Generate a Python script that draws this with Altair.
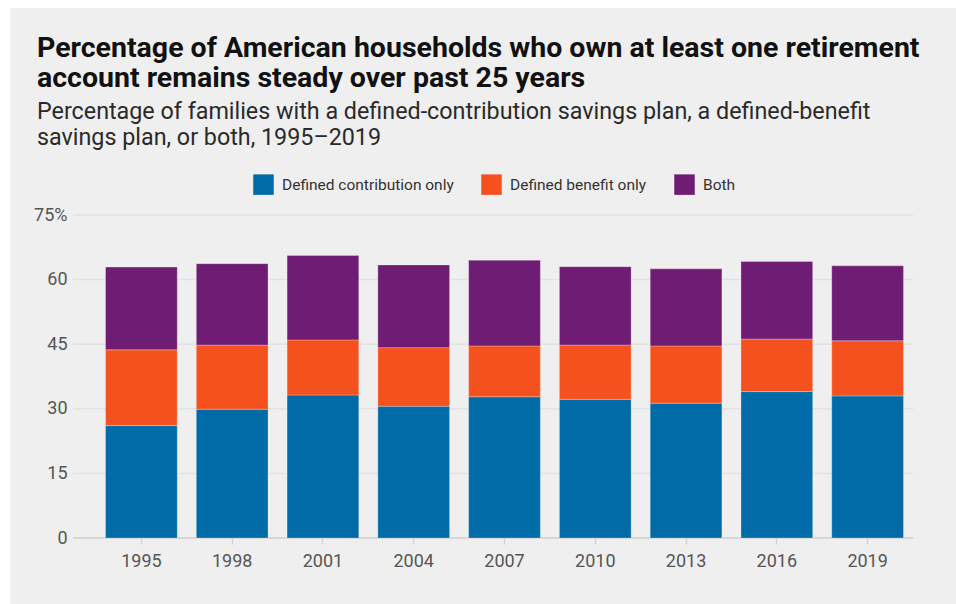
import altair as alt
import pandas as pd

years = ["1995", "1998", "2001", "2004", "2007", "2010", "2013", "2016", "2019"]
dc_only = [26.1, 29.9, 33.2, 30.6, 32.8, 32.2, 31.3, 34.0, 33.0]
db_only = [17.6, 14.9, 12.8, 13.6, 11.8, 12.6, 13.3, 12.2, 12.8]
both = [19.2, 18.9, 19.6, 19.2, 19.9, 18.2, 17.9, 18.0, 17.4]
series = ["Defined contribution only", "Defined benefit only", "Both"]
colors = ["#006ba6", "#f5511e", "#6f1d74"]
y_ticks = [0, 15, 30, 45, 60, 75]

title_lines = ["Percentage of American households who own at least one retirement",
               "account remains steady over past 25 years"]
subtitle_lines = ["Percentage of families with a defined-contribution savings plan, a defined-benefit",
                  "savings plan, or both, 1995\u20132019"]

rows = []
for i, yr in enumerate(years):
    for k, (s, vals) in enumerate(zip(series, [dc_only, db_only, both])):
        rows.append({"year": yr, "series": s, "value": vals[i], "order": k})
df = pd.DataFrame(rows)
grid_df = pd.DataFrame({"value": y_ticks})
panel_df = pd.DataFrame({"p": [0]})

FONT = "Roboto"
W, H = 840, 323

y_axis = alt.Axis(title=None, values=y_ticks,
                  labelExpr="datum.value == 75 ? '75%' : datum.label",
                  domain=False, ticks=False, labelPadding=6,
                  labelFontSize=18, labelColor="#555555", labelFont=FONT,
                  grid=False, zindex=1)
y_scale = alt.Scale(domain=[0, 75], nice=False)

panel = alt.Chart(panel_df).mark_rect(color="#efefef").encode(
    x=alt.value(-63), x2=alt.value(W + 43), y=alt.value(-207), y2=alt.value(H + 66)
)

grid = alt.Chart(grid_df).mark_rule().encode(
    y=alt.Y("value:Q", scale=y_scale, axis=y_axis),
    color=alt.condition("datum.value == 0", alt.value("#d6d6d6"), alt.value("#e2e2e2")),
    strokeWidth=alt.condition("datum.value == 0", alt.value(2), alt.value(1.5)),
)

bars = alt.Chart(df).mark_bar(
    stroke="#ffffff", strokeWidth=0.6, strokeOpacity=0.45
).encode(
    x=alt.X("year:N", sort=years,
            scale=alt.Scale(range=[23, W], paddingInner=0.21, paddingOuter=0.105),
            axis=alt.Axis(title=None, labelAngle=0, domain=False, ticks=True, tickSize=6,
                          tickColor="#d2d2d2", tickWidth=1.5, labelPadding=8,
                          labelFontSize=18, labelColor="#555555", labelFont=FONT,
                          grid=False, zindex=1)),
    y=alt.Y("value:Q", stack="zero", scale=y_scale, axis=y_axis),
    color=alt.Color("series:N", sort=series,
                    scale=alt.Scale(domain=series, range=colors),
                    legend=alt.Legend(title=None, orient="none", legendX=180, legendY=-41,
                                      direction="horizontal", symbolType="square", symbolSize=420,
                                      symbolStrokeWidth=0, symbolOpacity=1,
                                      labelFont=FONT, labelFontSize=15.5, labelColor="#333333",
                                      labelOffset=8, columnPadding=27, labelLimit=400)),
    order=alt.Order("order:Q", sort="ascending"),
)

chart = alt.layer(panel, grid, bars).properties(
    width=W, height=H,
    title=alt.TitleParams(text=title_lines, subtitle=subtitle_lines, anchor="start", frame="group",
                          dx=-36, font=FONT, fontSize=28.5, fontWeight="bold", color="#111111",
                          lineHeight=30, subtitleFont=FONT, subtitleFontSize=23.3,
                          subtitleColor="#2a2a2a", subtitleLineHeight=26, subtitlePadding=8,
                          offset=-141),
    autosize=alt.AutoSizeParams(type="none"),
    padding={"left": 73, "top": 215, "right": 43, "bottom": 66},
    background="#ffffff",
).configure_view(stroke=None)

chart.save("out.html", embed_options={"renderer": "svg", "actions": False})
